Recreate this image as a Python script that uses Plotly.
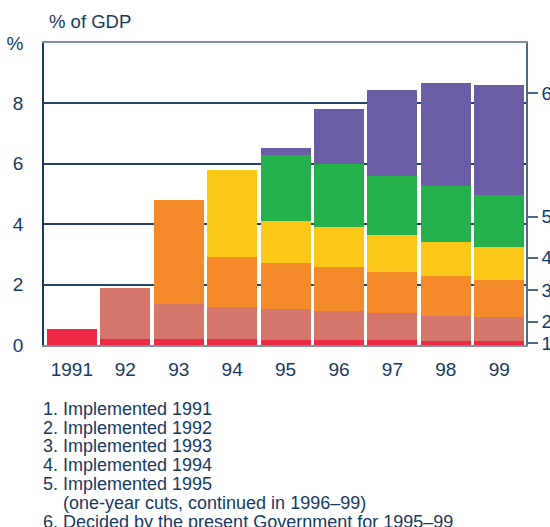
import plotly.graph_objects as go

years = ["1991", "92", "93", "94", "95", "96", "97", "98", "99"]
s1 = [0.53, 0.20, 0.20, 0.20, 0.17, 0.17, 0.17, 0.13, 0.13]
s2 = [0, 1.68, 1.17, 1.06, 1.02, 0.95, 0.89, 0.83, 0.80]
s3 = [0, 0, 3.42, 1.65, 1.52, 1.46, 1.35, 1.32, 1.22]
s4 = [0, 0, 0, 2.88, 1.39, 1.32, 1.23, 1.12, 1.09]
s5 = [0, 0, 0, 0, 2.18, 2.08, 1.95, 1.86, 1.72]
s6 = [0, 0, 0, 0, 0.23, 1.85, 2.87, 3.43, 3.64]
series = [s1, s2, s3, s4, s5, s6]
series_names = ["1", "2", "3", "4", "5", "6"]
colors = ["#EE2944", "#D4776A", "#F58A2B", "#FCC817", "#25B04C", "#6B5CA6"]

left_ticks = [0, 2, 4, 6, 8, 10]
left_ticktext = ["0", "2", "4", "6", "8", "%"]
right_tickvals = [0.06, 0.77, 1.81, 2.89, 4.25, 8.33]
right_ticktext = ["1", "2", "3", "4", "5", "6"]

notes = [
    ("1. Implemented 1991", 0),
    ("2. Implemented 1992", 0),
    ("3. Implemented 1993", 0),
    ("4. Implemented 1994", 0),
    ("5. Implemented 1995", 0),
    ("(one-year cuts, continued in 1996–99)", 1),
    ("6. Decided by the present Government for 1995–99", 0),
]

NAVY = "#173a64"
GREYBLUE = "#7d92a8"
FONT = "Liberation Sans, Arial, Helvetica, sans-serif"

fig = go.Figure()
for name, vals, c in zip(series_names, series, colors):
    fig.add_trace(go.Bar(x=years, y=vals, name=name, marker=dict(color=c, line=dict(width=0)),
                         hoverinfo="skip"))
# invisible trace to hold the right axis
fig.add_trace(go.Scatter(x=[years[0]], y=[0], yaxis="y2", mode="markers",
                         marker=dict(opacity=0), showlegend=False, hoverinfo="skip"))

W, H = 550, 527
PL, PR, PT, PB = 44, 526.5, 42.5, 345  # desired plot box in page pixels
ml, mr, mt, mb = PL, W - PR, PT, H - PB
ph = PB - PT
pw = PR - PL

def px_x(x):
    return (x - PL) / pw

def px_y(y):
    return (PB - y) / ph

fig.update_layout(
    width=W, height=H,
    margin=dict(l=ml, r=mr, t=mt, b=mb, pad=0, autoexpand=False),
    barmode="stack", bargap=0.066,
    plot_bgcolor="white", paper_bgcolor="white",
    showlegend=False,
    font=dict(family=FONT, size=18, color=NAVY),
    xaxis=dict(type="category", showgrid=False, showline=True, linecolor=GREYBLUE, linewidth=2,
               mirror=True, ticks="", tickfont=dict(size=19, color=NAVY), ticklabelstandoff=6,
               automargin=False, fixedrange=True),
    yaxis=dict(range=[0, 10], tickvals=left_ticks, ticktext=left_ticktext, showgrid=True,
               gridcolor="#24426a", gridwidth=1.5, zeroline=False, showline=True,
               linecolor=NAVY, linewidth=1.5, ticks="", ticklabelstandoff=15,
               automargin=False, tickfont=dict(size=19, color=NAVY)),
    yaxis2=dict(range=[0, 10], overlaying="y", side="right", tickvals=right_tickvals,
                ticktext=right_ticktext, showgrid=False, zeroline=False, showline=True,
                linecolor="#4f6a88", linewidth=1.5, ticks="outside", ticklen=10, tickwidth=1.5,
                tickcolor="#4f6a88", ticklabelstandoff=0, automargin=False,
                ticklabeloverflow="allow", tickfont=dict(size=19, color=NAVY)),
)

annotations = [dict(text="% of GDP", xref="paper", yref="paper", x=px_x(47),
                    y=px_y(21), xanchor="left", yanchor="middle", showarrow=False,
                    font=dict(size=18.5, color=NAVY))]
y0 = 409
for i, (t, indent) in enumerate(notes):
    ypx = y0 + i * 18.8
    xpx = 41 if indent == 0 else 61
    annotations.append(dict(text=t, xref="paper", yref="paper", x=px_x(xpx),
                            y=px_y(ypx), xanchor="left", yanchor="middle",
                            showarrow=False, font=dict(size=18, color=NAVY)))
fig.update_layout(annotations=annotations)

fig.write_html("out.html", config={"displayModeBar": False},
               post_script="document.body.style.margin='0';document.body.style.overflow='hidden';")
